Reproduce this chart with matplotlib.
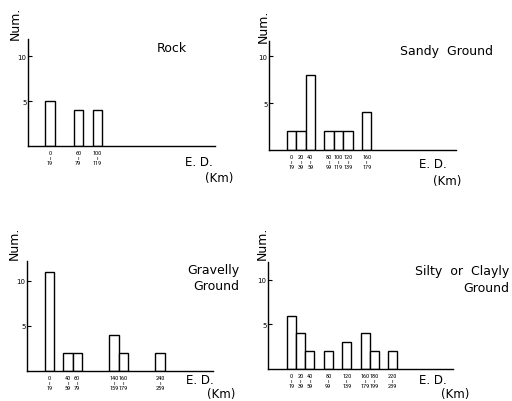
import matplotlib.pyplot as plt
from matplotlib import font_manager

# bin starts (km) and counts for each ground type
rock_start = [0, 60, 100]
rock_count = [5, 4, 4]

sandy_start = [0, 20, 40, 80, 100, 120, 160]
sandy_count = [2, 2, 8, 2, 2, 2, 4]

gravel_start = [0, 40, 60, 140, 160, 240]
gravel_count = [11, 2, 2, 4, 2, 2]

silty_start = [0, 20, 40, 80, 120, 160, 180, 220]
silty_count = [6, 4, 2, 2, 3, 4, 2, 2]

titles = ["Rock", "Sandy  Ground", "Gravelly\nGround", "Silty  or  Clayly\nGround"]

# narrow font for the crowded bin labels, if there is one
names = {f.name for f in font_manager.fontManager.ttflist}
small_font = 'DejaVu Sans'
for cand in ['Liberation Sans Narrow', 'Roboto Condensed', 'Open Sans Condensed']:
    if cand in names:
        small_font = cand
        break

W, H = 512, 402
fig = plt.figure(figsize=(W / 100, H / 100), dpi=100)

# panel boxes in pixels: left, top, right, bottom
boxes = [(28, 40, 215, 147), (269, 42, 456, 151), (27, 262, 213, 372), (268, 263, 453, 370)]
xlims = [(-36, 358), (-38, 360), (-39, 365), (-41, 361)]
ylims = [11.9, 11.6, 12.2, 12.0]
title_pos = [(157, 48, 'left'), (400, 51, 'left'), (239, 279, 'right'), (509, 280, 'right')]
ed_pos = [(185, 162), (419, 165), (186, 381), (419, 381)]
km_pos = [(205, 179), (433, 182), (207, 395), (441, 395)]
num_pos = [(15, 23), (263, 26), (14, 243), (262, 243)]

data = [(rock_start, rock_count), (sandy_start, sandy_count),
        (gravel_start, gravel_count), (silty_start, silty_count)]


def fx(px):
    return px / W


def fy(py):
    return 1 - py / H


for i, (starts, counts) in enumerate(data):
    l, t, r, b = boxes[i]
    ax = fig.add_axes([fx(l), fy(b), (r - l) / W, (b - t) / H])
    ax.bar(starts, counts, width=20, align='edge', color='white',
           edgecolor='black', linewidth=1.0)
    ax.set_xlim(*xlims[i])
    ax.set_ylim(0, ylims[i])
    for s in ['top', 'right']:
        ax.spines[s].set_visible(False)
    ax.spines['left'].set_linewidth(1.0)
    ax.spines['bottom'].set_linewidth(1.0)
    ax.set_xticks([])
    ax.set_yticks([5, 10])
    ax.set_yticklabels(['5', '10'], fontsize=5)
    ax.tick_params(axis='y', direction='in', length=3, width=0.8, pad=1)
    for s in starts:
        ax.annotate(f"{s}\nı\n{s + 19}", xy=(s + 10, 0), xytext=(0, -3),
                    textcoords='offset points', ha='center', va='top',
                    fontsize=4.5, family=small_font, fontstretch='condensed',
                    linespacing=1.0, annotation_clip=False)

    tx, ty, ha = title_pos[i]
    fig.text(fx(tx), fy(ty), titles[i], ha=ha, va='center', fontsize=9,
             linespacing=1.3)
    fig.text(fx(ed_pos[i][0]), fy(ed_pos[i][1]), "E. D.", ha='left', va='center', fontsize=8.5)
    fig.text(fx(km_pos[i][0]), fy(km_pos[i][1]), "(Km)", ha='left', va='center', fontsize=8.5)
    fig.text(fx(num_pos[i][0]), fy(num_pos[i][1]), "Num.", ha='center', va='center',
             rotation=90, fontsize=9)

fig.savefig('out.png', dpi=100, facecolor='white')
